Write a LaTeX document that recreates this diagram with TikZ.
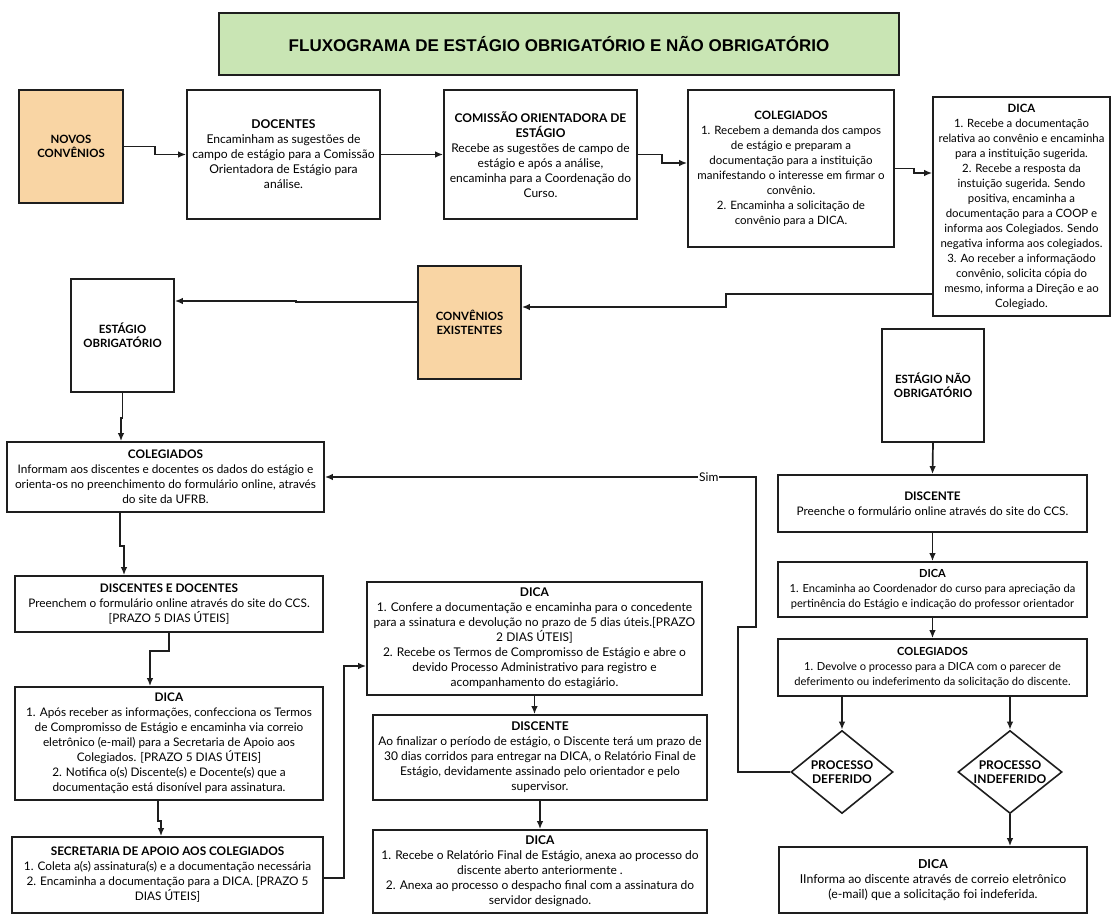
\documentclass[tikz,border=0pt]{standalone}
\usepackage{fontspec}
\setmainfont{Lato}
\newfontfamily\titlefont{Liberation Sans}
\usepackage{tikz}
\usetikzlibrary{positioning}
\usetikzlibrary{arrows.meta,shapes.geometric}

\definecolor{verdetitulo}{HTML}{C9E5B4}
\definecolor{pessego}{HTML}{F9D5A4}
\definecolor{borda}{HTML}{1E1E1E}

\newcommand{\fs}[1]{\fontsize{#1}{15}\selectfont}

\tikzset{
  box/.style={draw=borda, line width=1.6pt, fill=white, align=center, inner sep=1pt, font=\fs{11.8}},
  convbox/.style={box, fill=pessego, font=\fontsize{11.4}{14}\selectfont\bfseries},
  headbox/.style={box, font=\fontsize{11.4}{14}\selectfont\bfseries},
  decision/.style={diamond, draw=borda, line width=1.6pt, fill=white, align=center, inner sep=-12pt, font=\fontsize{12}{14}\selectfont\bfseries},
  flow/.style={->, line width=1.7pt, draw=borda},
}

\begin{document}
\begin{tikzpicture}[x=1pt,y=-1pt,>={Latex[length=8pt,width=6.5pt]}]
  \useasboundingbox (0,0) rectangle (1112,915);

  \node[draw=borda, fill=verdetitulo, line width=1.6pt, minimum width=680, minimum height=62, font=\titlefont\bfseries\fontsize{17}{19}\selectfont] (Title) at (559,44) {FLUXOGRAMA DE ESTÁGIO OBRIGATÓRIO E NÃO OBRIGATÓRIO};

  \node[convbox, minimum width=104, minimum height=113] (Novos) at (71,146.5) {NOVOS\\CONVÊNIOS};
  \node[box, font=\fs{12.1}, minimum width=193, minimum height=129] (Docentes) at (283.5,154.5) {\textbf{DOCENTES}\\Encaminham as sugestões de\\campo de estágio para a Comissão\\Orientadora de Estágio para\\análise.};
  \node[box, font=\fs{12}, minimum width=193, minimum height=129] (Comissao) at (540.5,154.5) {\textbf{COMISSÃO ORIENTADORA DE}\\\textbf{ESTÁGIO}\\Recebe as sugestões de campo de\\estágio e após a análise,\\encaminha para a Coordenação do\\Curso.};
  \node[box, font=\fs{11.5}, minimum width=206, minimum height=157] (ColegA) at (791,168.5) {\textbf{COLEGIADOS}\\1. Recebem a demanda dos campos\\de estágio e preparam a\\documentação para a instituição\\manifestando o interesse em firmar o\\convênio.\\2. Encaminha a solicitação de\\convênio para a DICA.};
  \node[box, font=\fs{11.4}, minimum width=177, minimum height=219] (DicaA) at (1021.5,206.5) {\textbf{DICA}\\1. Recebe a documentação\\relativa ao convênio e encaminha\\para a instituição sugerida.\\2. Recebe a resposta da\\instuição sugerida. Sendo\\positiva, encaminha a\\documentação para a COOP e\\informa aos Colegiados. Sendo\\negativa informa aos colegiados.\\3. Ao receber a informaçãodo\\convênio, solicita cópia do\\mesmo, informa a Direção e ao\\Colegiado.};

  \node[convbox, minimum width=103, minimum height=113] (Existentes) at (469.5,322.5) {CONVÊNIOS\\EXISTENTES};
  \node[headbox, minimum width=103, minimum height=113] (Obrig) at (122.5,335.5) {ESTÁGIO\\OBRIGATÓRIO};
  \node[headbox, minimum width=102, minimum height=113] (NaoObrig) at (933,385.5) {ESTÁGIO NÃO\\OBRIGATÓRIO};

  \node[box, minimum width=317, minimum height=70] (ColegB) at (165.5,477) {\textbf{COLEGIADOS}\\Informam aos discentes e docentes os dados do estágio e\\orienta-os no preenchimento do formulário online, através\\do site da UFRB.};
  \node[box, minimum width=308, minimum height=56] (DiscDoc) at (169,604) {\textbf{DISCENTES E DOCENTES}\\Preenchem o formulário online através do site do CCS.\\{[PRAZO 5 DIAS ÚTEIS]}};
  \node[box, minimum width=308, minimum height=113] (DicaB) at (169,743.5) {\textbf{DICA}\\1. Após receber as informações, confecciona os Termos\\de Compromisso de Estágio e encaminha via correio\\eletrônico (e-mail) para a Secretaria de Apoio aos\\Colegiados. [PRAZO 5 DIAS ÚTEIS]\\2. Notifica o(s) Discente(s) e Docente(s) que a\\documentação está disonível para assinatura.};
  \node[box, minimum width=311, minimum height=76] (Secretaria) at (167.5,875) {\textbf{SECRETARIA DE APOIO AOS COLEGIADOS}\\1. Coleta a(s) assinatura(s) e a documentação necessária\\2. Encaminha a documentação para a DICA. [PRAZO 5\\DIAS ÚTEIS]};

  \node[box, font=\fs{12}, minimum width=335, minimum height=113] (DicaC) at (534.5,638.5) {\textbf{DICA}\\1. Confere a documentação e encaminha para o concedente\\para a ssinatura e devolução no prazo de 5 dias úteis.[PRAZO\\2 DIAS ÚTEIS]\\2. Recebe os Termos de Compromisso de Estágio e abre o\\devido Processo Administrativo para registro e\\acompanhamento do estagiário.};
  \node[box, font=\fs{12}, minimum width=334, minimum height=85] (DiscC) at (540,757.5) {\textbf{DISCENTE}\\Ao finalizar o período de estágio, o Discente terá um prazo de\\30 dias corridos para entregar na DICA, o Relatório Final de\\Estágio, devidamente assinado pelo orientador e pelo\\supervisor.};
  \node[box, font=\fs{12}, minimum width=334, minimum height=83] (DicaD) at (540,871.5) {\textbf{DICA}\\1. Recebe o Relatório Final de Estágio, anexa ao processo do\\discente aberto anteriormente .\\2. Anexa ao processo o despacho final com a assinatura do\\servidor designado.};

  \node[box, minimum width=309, minimum height=57] (DiscN) at (932.5,503.5) {\textbf{DISCENTE}\\Preenche o formulário online através do site do CCS.};
  \node[box, font=\fs{11.1}, minimum width=309, minimum height=55] (DicaN) at (932.5,589.5) {\textbf{DICA}\\1. Encaminha ao Coordenador do curso para apreciação da\\pertinência do Estágio e indicação do professor orientador};
  \node[box, font=\fs{11.1}, minimum width=309, minimum height=57] (ColegN) at (932.5,667.5) {\textbf{COLEGIADOS}\\1. Devolve o processo para a DICA com o parecer de\\deferimento ou indeferimento da solicitação do discente.};
  \node[decision, minimum width=102, minimum height=83] (Deferido) at (842,772) {PROCESSO\\DEFERIDO};
  \node[decision, minimum width=104, minimum height=83] (Indeferido) at (1010,772) {PROCESSO\\INDEFERIDO};
  \node[box, font=\fs{12.3}, minimum width=308, minimum height=66] (DicaI) at (933,880) {\textbf{DICA}\\IInforma ao discente através de correio eletrônico\\(e-mail) que a solicitação foi indeferida.};

  \draw[flow] (Novos.east) -- ++(31,0) |- (Docentes.west);
  \draw[flow] (Docentes.east) -- (Comissao.west);
  \draw[flow] (Comissao.east) -- ++(24,0) |- ([yshift=5.5pt]ColegA.west);
  \draw[flow] (ColegA.east) -- ++(19,0) |- ([yshift=33.5pt]DicaA.west);
  \draw[flow] ([yshift=-87.5pt]DicaA.west) -- ++(-206,0) |- ([yshift=15.5pt]Existentes.east);
  \draw[flow] ([yshift=20.5pt]Existentes.west) -- ++(-121,0) |- ([yshift=34.5pt]Obrig.east);
  \draw[flow] (Obrig.south) -- ++(0,25) -| ([xshift=-44.5pt]ColegB.north);
  \draw[flow] ([xshift=-45.5pt]ColegB.south) -- ++(0,33) -| ([xshift=-45pt]DiscDoc.north);
  \draw[flow] (DiscDoc.south) -- ++(0,18) -| ([xshift=-19pt]DicaB.north);
  \draw[flow] ([xshift=-11pt]DicaB.south) -- ++(0,20) -| ([xshift=-6.5pt]Secretaria.north);
  \draw[flow] ([yshift=-3pt]Secretaria.east) -- ++(20,0) |- ([yshift=-27.5pt]DicaC.west);
  \draw[flow] (DicaC.south) -- (DicaC.south |- DiscC.north);
  \draw[flow] (DiscC.south) -- (DicaD.north);
  \draw[flow] (NaoObrig.south) -- (DiscN.north);
  \draw[flow] (DiscN.south) -- (DicaN.north);
  \draw[flow] (DicaN.south) -- (ColegN.north);
  \draw[flow] (ColegN.south -| Deferido.north) -- (Deferido.north);
  \draw[flow] (ColegN.south -| Indeferido.north) -- (Indeferido.north);
  \draw[flow] (Indeferido.south) -- (Indeferido.south |- DicaI.north);
  \draw[flow] (Deferido.west) -- ++(-52,0) -- ++(0,-145) -- ++(18,0) |- node[pos=0.555, fill=white, inner sep=1pt, font=\fontsize{12}{14}\selectfont] {Sim} (ColegB.east);
\end{tikzpicture}
\end{document}
